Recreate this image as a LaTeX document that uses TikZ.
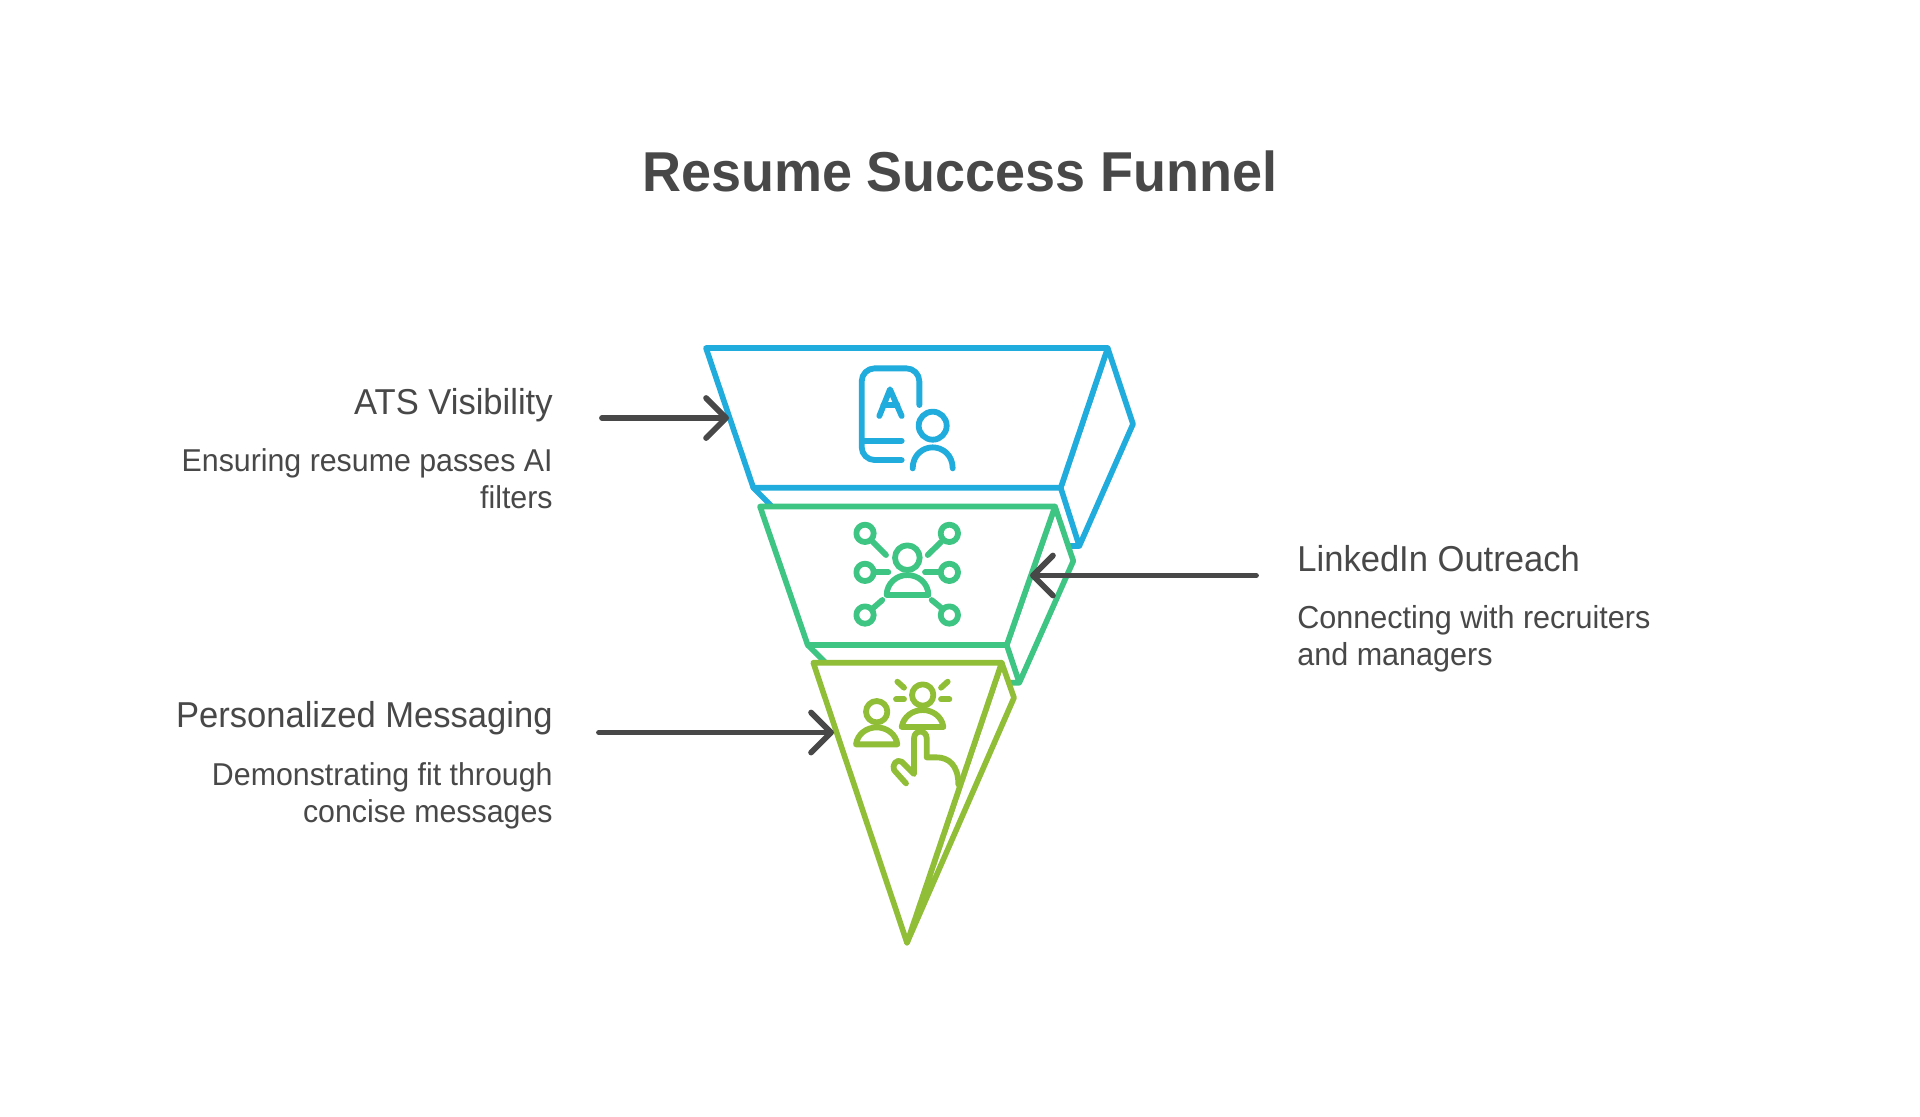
\documentclass[tikz,border=0pt]{standalone}
\usepackage{fontspec}
\setmainfont[FakeStretch=0.96]{Liberation Sans}
\usetikzlibrary{arrows.meta}
\definecolor{cblue}{HTML}{20ACDC}
\definecolor{cgreen}{HTML}{3EC583}
\definecolor{clime}{HTML}{91BE37}
\definecolor{ink}{HTML}{484848}
\tikzset{
  funnel/.style={line width=2.8pt,line join=round,line cap=round,fill=white},
  glyph/.style={line width=2.9pt,line join=round,line cap=round},
  pointer/.style={draw=ink,line width=2.9pt,line cap=round,line join=round,
    -{Straight Barb[length=10pt,width=20pt,line width=2.9pt,round]}},
  headline/.style={text=ink,font=\fontsize{18}{20}\selectfont,inner sep=0pt},
  bodyright/.style={text=ink,font=\fontsize{15.8}{18.5}\selectfont,inner sep=0pt,align=right,anchor=base east},
  bodyleft/.style={text=ink,font=\fontsize{15.9}{18.5}\selectfont,inner sep=0pt,align=left,anchor=base west},
  titletext/.style={text=ink,font=\fontsize{28.1}{30}\selectfont\bfseries,inner sep=0pt}
}
\begin{document}
\begin{tikzpicture}[x=0.5pt,y=-0.5pt]
\useasboundingbox (0,0) rectangle (1920,1116);
\fill[white] (0,0) rectangle (1920,1116);

\node[titletext,anchor=base] (title) at (960,191) {Resume Success Funnel};

% blue tier
\draw[funnel,draw=cblue] (753.3,487.7) -- (811,546) -- (1079.3,546) -- (1133,424) -- (1107.7,348) -- (1060.7,487.7) -- (1079.3,546);
\draw[funnel,draw=cblue] (706,348) -- (1107.7,348) -- (1060.7,487.7) -- (753.3,487.7) -- cycle;
% green tier
\draw[funnel,draw=cgreen] (807.7,645) -- (846,682.7) -- (1019.3,682.7) -- (1073.3,561) -- (1055,506.5) -- (1006.7,645) -- (1019.3,682.7);
\draw[funnel,draw=cgreen] (760,506.5) -- (1055,506.5) -- (1006.7,645) -- (807.7,645) -- cycle;
% lime tier
\draw[funnel,draw=clime] (907,942.7) -- (1014,697.7) -- (1001.7,662.7) -- cycle;
\draw[funnel,draw=clime] (813.3,662.7) -- (1001.7,662.7) -- (907,942.7) -- cycle;

% blue icon
\begin{scope}[shift={(840,360)},x=0.1667pt,y=-0.1667pt,glyph,draw=cblue]
  \draw[rounded corners=6.5pt] (238,135) -- (238,25) -- (65,25) -- (65,300) -- (185,300);
  \draw (68,242) -- (185,242);
  \draw (118,168) -- (150,88) -- (185,168);
  \draw (130,135) -- (172,135);
  \draw (278,197) circle[radius=42];
  \draw (218,325) .. controls (218,285) and (248,262) .. (278,262) .. controls (308,262) and (338,285) .. (338,325);
\end{scope}

% green icon
\begin{scope}[shift={(850,515)},x=0.1667pt,y=-0.1667pt,glyph,draw=cgreen]
  \draw (172,128) circle[radius=37];
  \draw (110,240) .. controls (110,205) and (140,180) .. (172,180) .. controls (205,180) and (235,205) .. (235,240) -- cycle;
  \foreach \cx/\cy in {45/55,298/55,45/172,298/172,45/300,298/300}
    \draw (\cx,\cy) circle[radius=26];
  \draw (68,80) -- (108,120);
  \draw (274,80) -- (233,120);
  \draw (72,172) -- (115,172);
  \draw (225,172) -- (272,172);
  \draw (97,255) -- (66,282);
  \draw (245,255) -- (278,282);
\end{scope}

% lime icon
\begin{scope}[shift={(780,650)},x=0.1667pt,y=-0.1667pt,glyph,draw=clime]
  \draw (290,185) circle[radius=32];
  \draw (228,283) .. controls (232,252) and (260,232) .. (290,232) .. controls (320,232) and (348,252) .. (352,283) -- cycle;
  \draw (428,135) circle[radius=32];
  \draw (365,231) .. controls (370,200) and (398,180) .. (428,180) .. controls (458,180) and (486,200) .. (490,231) -- cycle;
  \draw (352,95) -- (372,113);
  \draw (503,95) -- (483,113);
  \draw (348,148) -- (372,148);
  \draw (483,148) -- (508,148);
  \draw (378,400) -- (342,360) .. controls (335,345) and (350,325) .. (365,335) -- (402,372) -- (402,265) .. controls (402,238) and (440,238) .. (440,265) -- (440,322) -- (470,322) .. controls (505,322) and (535,345) .. (535,403);
\end{scope}

% pointers
\coordinate (a1s) at (602,418);
\coordinate (a1t) at (729,418);
\coordinate (a2s) at (1256,575.5);
\coordinate (a2t) at (1030,575.5);
\coordinate (a3s) at (599,732.5);
\coordinate (a3t) at (834,732.5);
\draw[pointer] (a1s) -- (a1t);
\draw[pointer] (a2s) -- (a2t);
\draw[pointer] (a3s) -- (a3t);

% labels
\node[headline,anchor=base east] (h1) at (553,414) {ATS Visibility};
\node[bodyright] (b1) at (553,508) {Ensuring resume passes AI\\filters};
\node[headline,anchor=base west] (h2) at (1297,571) {LinkedIn Outreach};
\node[bodyleft] (b2) at (1297,665) {Connecting with recruiters\\and managers};
\node[headline,anchor=base east] (h3) at (553,727) {Personalized Messaging};
\node[bodyright] (b3) at (553,822) {Demonstrating fit through\\concise messages};
\end{tikzpicture}
\end{document}
